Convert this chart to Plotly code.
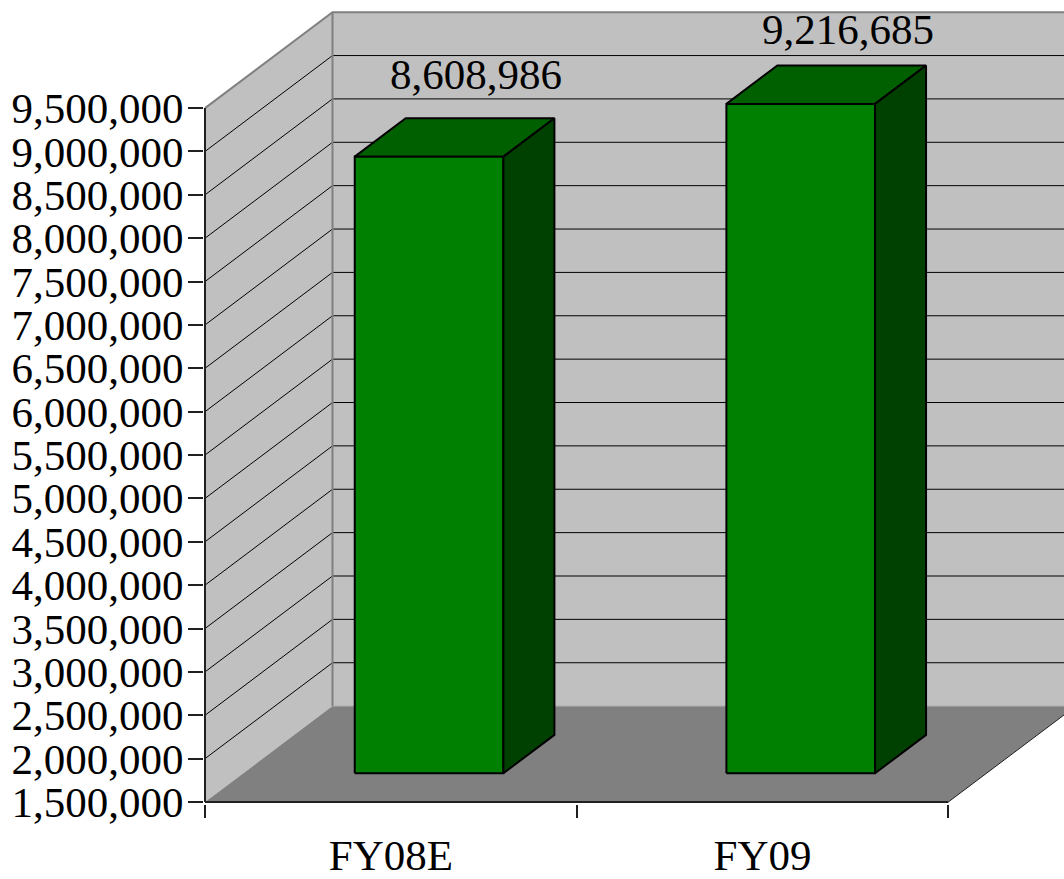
import plotly.graph_objects as go

# ---------------- data ----------------
categories = ["FY08E", "FY09"]
values = [8608986, 9216685]
value_labels = ["8,608,986", "9,216,685"]
y_ticks = list(range(1500000, 9500001, 500000))
y_tick_text = [f"{v:,}" for v in y_ticks]

# ---------------- geometry / style ----------------
W, H = 1064, 879
L, B = 204, 70
PX_PER_STEP = 43.64                 # pixels per 500,000
PXV = 500000 / PX_PER_STEP          # value units per pixel
PX_PER_CAT = 371.65
PXU = 1 / PX_PER_CAT                # category units per pixel
DXU = 127.5 * PXU                   # depth offset (x)
DYV = 96.5 * PXV                    # depth offset (y)
VMIN, VMAX = y_ticks[0], y_ticks[-1]
NCAT = len(categories)
plot_h = H - B
plot_w = W - L
yr = [VMIN - 2 * PXV, VMIN - 2 * PXV + plot_h * PXV]
xr = [-1 * PXU, -1 * PXU + plot_w * PXU]
FONT = "Liberation Serif"
FS = 43

WALL = "#C0C0C0"
FLOOR = "#808080"
EDGE = "#808080"
FRONT = "#008000"
TOP = "#006000"
SIDE = "#004000"


def P(x, v, d):
    return x + d * DXU, v + d * DYV


fig = go.Figure()


def poly(pts, fill, line_color=None, width=0):
    xs, ys = zip(*[P(*p) for p in pts])
    xs = list(xs) + [xs[0]]
    ys = list(ys) + [ys[0]]
    fig.add_trace(go.Scatter(
        x=xs, y=ys, mode="lines", fill="toself", fillcolor=fill,
        line=dict(color=line_color or fill, width=width if line_color else 0),
        hoverinfo="skip", showlegend=False))


def line(pts, color, width):
    xs, ys = zip(*[P(*p) for p in pts])
    fig.add_trace(go.Scatter(
        x=list(xs), y=list(ys), mode="lines",
        line=dict(color=color, width=width),
        hoverinfo="skip", showlegend=False))


# walls and floor
poly([(0, VMIN, 0), (0, VMAX, 0), (0, VMAX, 1), (0, VMIN, 1)], WALL)
poly([(0, VMIN, 1), (NCAT, VMIN, 1), (NCAT, VMAX, 1), (0, VMAX, 1)], WALL)
poly([(0, VMIN, 0), (NCAT, VMIN, 0), (NCAT, VMIN, 1), (0, VMIN, 1)], FLOOR)

# gridlines
for v in y_ticks[1:-1]:
    line([(0, v, 0), (0, v, 1), (NCAT, v, 1)], "#000000", 1)

# wall edges
line([(0, VMAX, 0), (0, VMAX, 1), (NCAT, VMAX, 1)], EDGE, 2)
line([(0, VMIN, 1), (0, VMAX, 1)], EDGE, 2)
line([(0, VMIN, 1), (NCAT, VMIN, 1)], "#A8A8A8", 1)
line([(NCAT, VMIN, 0), (NCAT, VMIN, 1)], "#202020", 1)

# front axis lines
line([(0, VMIN, 0), (NCAT, VMIN, 0)], "#202020", 2)
line([(0, VMIN, 0), (0, VMAX, 0)], "#202020", 2)

# bars
HALF_W = 0.2
D0, D1 = 0.3, 0.7
for i, v in enumerate(values):
    xc = i + 0.5
    x0, x1 = xc - HALF_W, xc + HALF_W
    poly([(x0, VMIN, D0), (x1, VMIN, D0), (x1, v, D0), (x0, v, D0)], FRONT, "#000000", 2)
    poly([(x0, v, D0), (x1, v, D0), (x1, v, D1), (x0, v, D1)], TOP, "#000000", 2)
    poly([(x1, VMIN, D0), (x1, VMIN, D1), (x1, v, D1), (x1, v, D0)], SIDE, "#000000", 2)

# data labels
for i, (v, t) in enumerate(zip(values, value_labels)):
    lx, ly = P(i + 0.5, v, 0.67)
    ly = min(ly + 47 * PXV, yr[1] - 30 * PXV)
    fig.add_annotation(x=lx, y=ly, text=t, showarrow=False,
                       xanchor="center", yanchor="middle",
                       font=dict(family=FONT, size=FS, color="#000000"))

# invisible trace for category axis
fig.add_trace(go.Scatter(x=[0.5, 1.5], y=[VMIN, VMIN], xaxis="x2", mode="none",
                         hoverinfo="skip", showlegend=False))

fig.update_layout(
    width=W, height=H,
    margin=dict(l=L, r=0, t=0, b=B, pad=0),
    paper_bgcolor="white", plot_bgcolor="white",
    showlegend=False,
    xaxis=dict(range=xr, tickvals=list(range(NCAT + 1)), showticklabels=False,
               ticks="outside", ticklen=13, tickwidth=1.5, tickcolor="#202020",
               showgrid=False, zeroline=False, showline=False, fixedrange=True),
    xaxis2=dict(range=xr, overlaying="x", anchor="y", side="bottom",
                tickvals=[i + 0.5 for i in range(NCAT)], ticktext=categories,
                ticks="", showgrid=False, zeroline=False, showline=False,
                ticklabelstandoff=22,
                tickfont=dict(family=FONT, size=FS, color="#000000")),
    yaxis=dict(range=yr, tickvals=y_ticks, ticktext=y_tick_text,
               ticks="outside", ticklen=15, tickwidth=1.5, tickcolor="#202020",
               showgrid=False, zeroline=False, showline=False,
               ticklabelstandoff=-4,
               tickfont=dict(family=FONT, size=FS, color="#000000")),
)

fig.write_html("out.html")
